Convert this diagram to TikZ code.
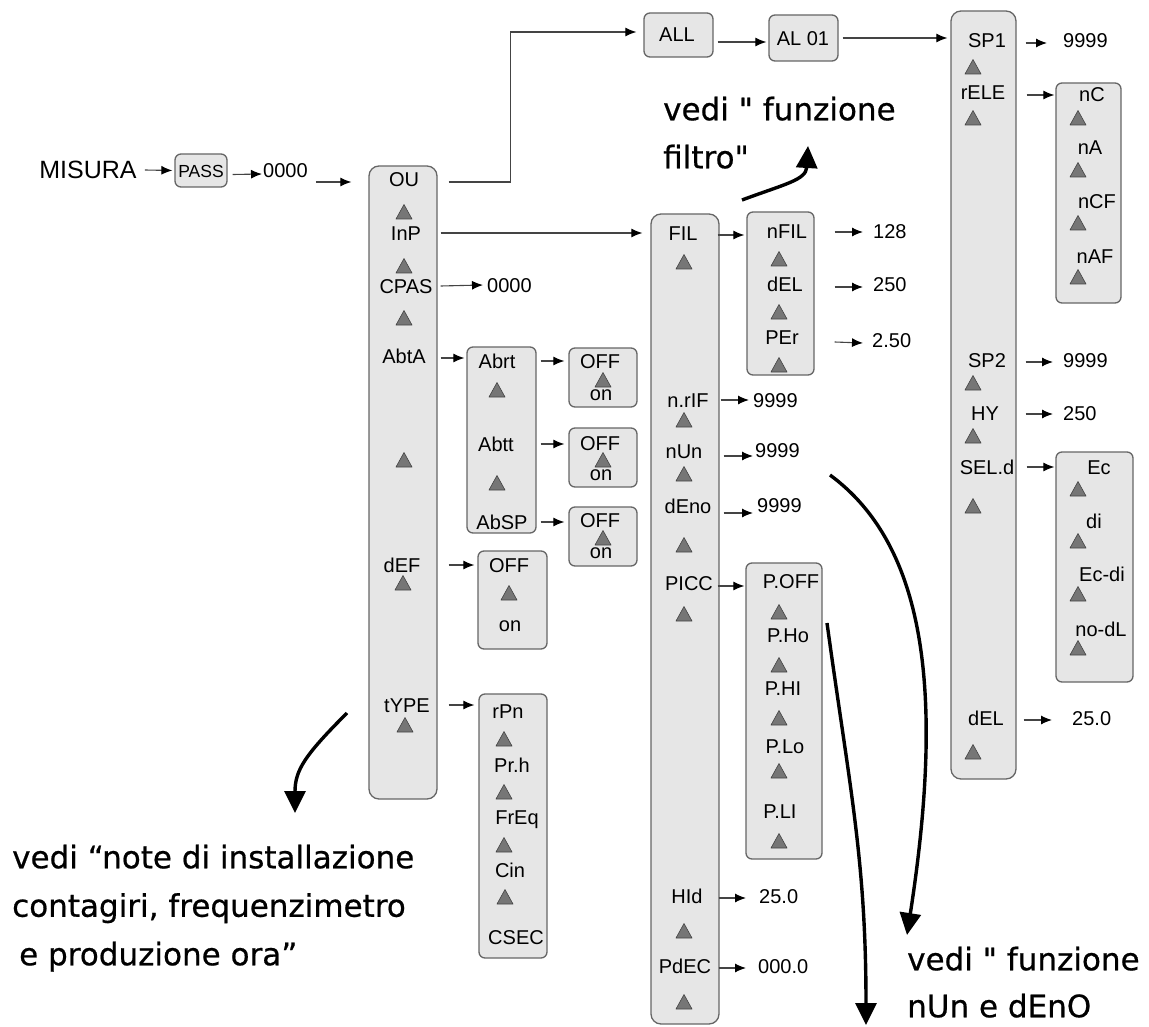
\documentclass[tikz,border=0pt]{standalone}
\usepackage{fontspec}
\usetikzlibrary{arrows.meta,calc}
\newfontfamily\lblfam{Liberation Sans}
\newfontfamily\handfam{DejaVu Sans}[FakeBold=0.6]
\definecolor{boxfill}{HTML}{E6E6E6}
\definecolor{boxdraw}{HTML}{666666}
\definecolor{linegray}{HTML}{444444}
\definecolor{trifill}{HTML}{767676}
\definecolor{tridraw}{HTML}{444444}
\newcommand\mytri[2]{\filldraw[fill=trifill,draw=tridraw,line width=0.6pt,line join=round] (#1-8,#2+7) -- (#1+8,#2+7) -- (#1,#2-7.5) -- cycle;}
\newcommand\Pk{P\kern-2.5pt}
\begin{document}
\begin{tikzpicture}[x=1pt,y=-1pt,
 lbl/.style={font=\lblfam\fontsize{20}{20}\selectfont, inner sep=0pt, text height=14.3pt, text depth=0pt},
 col/.style={draw=boxdraw, fill=boxfill, line width=1.3pt, rounded corners=10pt, inner sep=0pt},
 sbox/.style={col, rounded corners=6pt},
 conn/.style={draw=linegray, line width=1.1pt, -{Latex[length=11pt,width=9pt,color=black]}},
 hand/.style={line width=3.4pt, -{Triangle[length=22pt,width=21pt]}},
 htext/.style={font=\handfam\fontsize{31}{48}\selectfont, align=left, inner sep=0pt, anchor=north west}
]
\useasboundingbox (0,0) rectangle (1149,1027);

% ---------- boxes ----------
\node[col, minimum width=68, minimum height=633] (colOU) at (403,482.5) {};
\node[col, minimum width=68, minimum height=810] (colFIL) at (685,619) {};
\node[col, minimum width=65, minimum height=768] (colSP) at (983.5,395) {};
\node[sbox, minimum width=52, minimum height=33] (bPASS) at (201,170.5) {};
\node[sbox, minimum width=69, minimum height=44] (bALL) at (678.5,35) {};
\node[sbox, minimum width=69, minimum height=46] (bAL) at (803.5,38) {};
\node[sbox, minimum width=69, minimum height=186] (bAbrt) at (501.5,440) {};
\node[sbox, minimum width=68, minimum height=59] (bOFF1) at (603,377.5) {};
\node[sbox, minimum width=68, minimum height=59] (bOFF2) at (603,457.5) {};
\node[sbox, minimum width=68, minimum height=59] (bOFF3) at (603,536.5) {};
\node[sbox, minimum width=69, minimum height=98] (bdEF) at (512.5,600) {};
\node[sbox, minimum width=68, minimum height=264] (brPn) at (513,826) {};
\node[sbox, minimum width=67, minimum height=163] (bnFIL) at (780.5,293.5) {};
\node[sbox, minimum width=76, minimum height=296] (bPOFF) at (784,711) {};
\node[sbox, minimum width=65, minimum height=220] (bnC) at (1088.5,193) {};
\node[sbox, minimum width=77, minimum height=230] (bEc) at (1094.5,567) {};

% ---------- top row ----------
\node[lbl, font=\lblfam\fontsize{25}{25}\selectfont, text height=18pt] (tMIS) at (88,170) {MISURA};
\node[lbl, font=\lblfam\fontsize{17.5}{17.5}\selectfont, text height=12.5pt] (tPASS) at (201,171) {PASS};
\node[lbl, anchor=west] (t0000a) at (263,170) {0000};
\node[lbl] (tALL) at (677,34) {ALL};
\node[lbl] (tAL) at (803,38) {AL 01};

% ---------- OU column ----------
\node[lbl] (tOU) at (404,179) {OU};
\node[lbl] (tInP) at (406,233) {InP};
\node[lbl] (tCPAS) at (406,286) {CPAS};
\node[lbl] (tAbtA) at (404,356) {AbtA};
\node[lbl] (tdEF) at (402,565) {dEF};
\node[lbl] (ttYPE) at (407,705) {tYPE};
\mytri{404}{212}\mytri{404}{266}\mytri{404}{318}\mytri{404}{460}\mytri{403}{583}\mytri{405}{725}

\node[lbl, anchor=west] (t0000b) at (487,285) {0000};

% Abrt box
\node[lbl] (tAbrt) at (497,361) {Abrt};
\node[lbl] (tAbtt) at (496,444) {Abtt};
\node[lbl] (tAbSP) at (502,522) {AbSP};
\mytri{497}{390}\mytri{497}{483}

% OFF/on boxes
\node[lbl] (tOFF1) at (600,361) {OFF};
\node[lbl] (ton1) at (601,393) {on};
\mytri{603}{380}
\node[lbl] (tOFF2) at (600,443) {OFF};
\node[lbl] (ton2) at (601,473) {on};
\mytri{603}{460}
\node[lbl] (tOFF3) at (600,520) {OFF};
\node[lbl] (ton3) at (601,551) {on};
\mytri{603}{538}
\node[lbl] (tOFFd) at (509,565) {OFF};
\node[lbl] (tond) at (510,624) {on};
\mytri{509}{593}

% rPn box
\node[lbl] (trPn) at (508,711) {rPn};
\node[lbl] (tPrh) at (512,765) {Pr.h};
\node[lbl] (tFrEq) at (517,817) {FrEq};
\node[lbl] (tCin) at (510,870) {Cin};
\node[lbl] (tCSEC) at (516,937) {CSEC};
\mytri{504}{739}\mytri{504}{792}\mytri{504}{845}\mytri{505}{897}

% ---------- FIL column ----------
\node[lbl] (tFIL) at (683,233) {FIL};
\node[lbl] (tnrIF) at (688,400) {n.rIF};
\node[lbl] (tnUn) at (684,451) {nUn};
\node[lbl] (tdEno) at (688,506) {dEno};
\node[lbl] (tPICC) at (689,583) {PICC};
\node[lbl] (tHId) at (687,896) {HId};
\node[lbl] (tPdEC) at (685,966) {PdEC};
\mytri{684}{262}\mytri{684}{420}\mytri{684}{474}\mytri{684}{545}\mytri{684}{614}\mytri{684}{931}\mytri{684}{1002}

% nFIL box
\node[lbl] (tnFIL) at (787,231) {nFIL};
\node[lbl] (tdEL) at (785,284) {dEL};
\node[lbl] (tPEr) at (782,337) {PEr};
\mytri{779}{259}\mytri{779}{312}\mytri{779}{365}
\node[lbl, anchor=west] (v128) at (873,231) {128};
\node[lbl, anchor=west] (v250a) at (873,284) {250};
\node[lbl, anchor=west] (v250b) at (872,340) {2.50};

\node[lbl, anchor=west] (v9a) at (753,400) {9999};
\node[lbl, anchor=west] (v9b) at (755,450) {9999};
\node[lbl, anchor=west] (v9c) at (757,505) {9999};
\node[lbl, anchor=west] (v25a) at (759,896) {25.0};
\node[lbl, anchor=west] (v000) at (758,966) {000.0};

% P.OFF box
\node[lbl] (tPOFF) at (791,581) {\Pk.OFF};
\node[lbl] (tPHo) at (788,635) {\Pk.Ho};
\node[lbl] (tPHI) at (783,688) {\Pk.HI};
\node[lbl] (tPLo) at (785,746) {\Pk.Lo};
\node[lbl] (tPLI) at (780,811) {\Pk.LI};
\mytri{779}{612}\mytri{779}{665}\mytri{779}{718}\mytri{779}{771}\mytri{779}{841}

% ---------- SP column ----------
\node[lbl] (tSP1) at (987,40) {SP1};
\node[lbl] (trELE) at (983,92) {rELE};
\node[lbl] (tSP2) at (987,360) {SP2};
\node[lbl] (tHY) at (985,413) {HY};
\node[lbl] (tSEL) at (987,467) {SEL.d};
\node[lbl] (tdEL2) at (986,718) {dEL};
\mytri{973}{67}\mytri{973}{118}\mytri{973}{383}\mytri{973}{436}\mytri{973}{506}\mytri{973}{752}

\node[lbl, anchor=west] (v9d) at (1063,40) {9999};
\node[lbl, anchor=west] (v9e) at (1063,360) {9999};
\node[lbl, anchor=west] (v250c) at (1063,413) {250};
\node[lbl, anchor=west] (v25c) at (1072,718) {25.0};

% nC box
\node[lbl] (tnC) at (1092,94) {nC};
\node[lbl] (tnA) at (1090,147) {nA};
\node[lbl] (tnCF) at (1097,201) {nCF};
\node[lbl] (tnAF) at (1095,256) {nAF};
\mytri{1078}{118}\mytri{1078}{170}\mytri{1078}{223}\mytri{1078}{277}

% Ec box
\node[lbl] (tEc) at (1099,467) {Ec};
\node[lbl] (tdi) at (1094,521) {di};
\node[lbl] (tEcdi) at (1102,574) {Ec-di};
\node[lbl] (tnodL) at (1101,629) {no-dL};
\mytri{1078}{489}\mytri{1078}{541}\mytri{1078}{594}\mytri{1078}{648}

% ---------- connectors ----------
\draw[conn] ($(tMIS.east)+(8,0)$) -- ($(bPASS.west)+(-2,0)$);
\draw[conn] ($(bPASS.east)+(5,4)$) -- ($(t0000a.west)+(-1,4)$);
\draw[conn] ($(t0000a.east)+(8,12)$) -- ($(colOU.west |- t0000a)+(-17,12)$);
\draw[conn] ($(colOU.east |- tOU)+(11,3)$) -- ++(62,0) |- ($(bALL.west)+(-7,-3)$);
\draw[conn] ($(bALL.east)+(4,7)$) -- ($(bAL.west)+(-2,4)$);
\draw[conn] ($(bAL.east)+(4,0)$) -- ($(colSP.west |- bAL)+(-3,0)$);
\draw[conn] ($(colOU.east |- tInP)+(3,0)$) -- ($(colFIL.west |- tInP)+(-8,0)$);
\draw[conn] ($(colOU.east |- tCPAS)+(3,0)$) -- ($(t0000b.west)+(-4,0)$);
\draw[conn] ($(colOU.east |- tAbtA)+(3,2)$) -- ($(bAbrt.west |- tAbtA)+(-2,2)$);
\draw[conn] ($(bAbrt.east |- tAbrt)+(4,0)$) -- ($(bOFF1.west |- tAbrt)+(-4,0)$);
\draw[conn] ($(bAbrt.east |- tAbtt)+(4,0)$) -- ($(bOFF2.west |- tAbtt)+(-4,0)$);
\draw[conn] ($(bAbrt.east |- tAbSP)+(4,0)$) -- ($(bOFF3.west |- tAbSP)+(-4,0)$);
\draw[conn] ($(colOU.east |- tdEF)+(11,0)$) -- ($(bdEF.west |- tdEF)+(-3,0)$);
\draw[conn] ($(colOU.east |- ttYPE)+(11,0)$) -- ($(brPn.west |- ttYPE)+(-4,0)$);
\draw[conn] ($(colFIL.east |- tFIL)+(-2,2)$) -- ($(bnFIL.west |- tFIL)+(-2,2)$);
\draw[conn] ($(bnFIL.east |- tnFIL)+(20,1)$) -- ($(v128.west)+(-10,1)$);
\draw[conn] ($(bnFIL.east |- tdEL)+(20,3)$) -- ($(v250a.west)+(-10,3)$);
\draw[conn] ($(bnFIL.east |- tPEr)+(20,5)$) -- ($(v250b.west)+(-9,3)$);
\draw[conn] ($(colFIL.east |- tnrIF)+(1,0)$) -- ($(v9a.west)+(-4,0)$);
\draw[conn] ($(colFIL.east |- tnUn)+(4,5)$) -- ($(v9b.west)+(-2,6)$);
\draw[conn] ($(colFIL.east |- tdEno)+(4,7)$) -- ($(v9c.west)+(-4,8)$);
\draw[conn] ($(colFIL.east |- tPICC)+(-2,3)$) -- ($(bPOFF.west |- tPICC)+(-1,3)$);
\draw[conn] ($(colFIL.east |- tHId)+(-1,2)$) -- ($(v25a.west)+(-13,2)$);
\draw[conn] ($(colFIL.east |- tPdEC)+(-1,2)$) -- ($(v000.west)+(-12,2)$);
\draw[conn] ($(colSP.east |- tSP1)+(9,3)$) -- ($(v9d.west)+(-16,3)$);
\draw[conn] ($(colSP.east |- trELE)+(10,3)$) -- ($(bnC.west |- trELE)+(-1,3)$);
\draw[conn] ($(colSP.east |- tSP2)+(9,2)$) -- ($(v9e.west)+(-10,2)$);
\draw[conn] ($(colSP.east |- tHY)+(9,1)$) -- ($(v250c.west)+(-10,1)$);
\draw[conn] ($(colSP.east |- tSEL)+(10,0)$) -- ($(bEc.west |- tSEL)+(-1,0)$);
\draw[conn] ($(colSP.east |- tdEL2)+(7,2)$) -- ($(v25c.west)+(-20,2)$);

% ---------- hand-written notes ----------
\node[htext] (hFil) at (663,96.5) {vedi " funzione\\filtro"};
\node[htext, font=\handfam\fontsize{31}{48.5}\selectfont] (hNote) at (12,844.5) {vedi “note di installazione\\contagiri, frequenzimetro\\\hspace*{7pt}e produzione ora”};
\node[htext, font=\handfam\fontsize{31}{47}\selectfont] (hnUn) at (907,946.5) {vedi " funzione\\nUn e dEnO};

\coordinate (h1s) at (742,200); \coordinate (h1e) at (808,146);
\draw[hand] (h1s) .. controls (785,184) and (806,180) .. (h1e);
\coordinate (h2s) at (830,475); \coordinate (h2e) at (907,935);
\draw[hand] (h2s) .. controls (925,545) and (945,690) .. (h2e);
\coordinate (h3s) at (827,623); \coordinate (h3e) at (866,1025);
\draw[hand] (h3s) .. controls (850,790) and (866,860) .. (h3e);
\coordinate (h4s) at (347,713); \coordinate (h4e) at (295,813);
\draw[hand] (h4s) .. controls (305,755) and (295,770) .. (h4e);
\end{tikzpicture}
\end{document}
